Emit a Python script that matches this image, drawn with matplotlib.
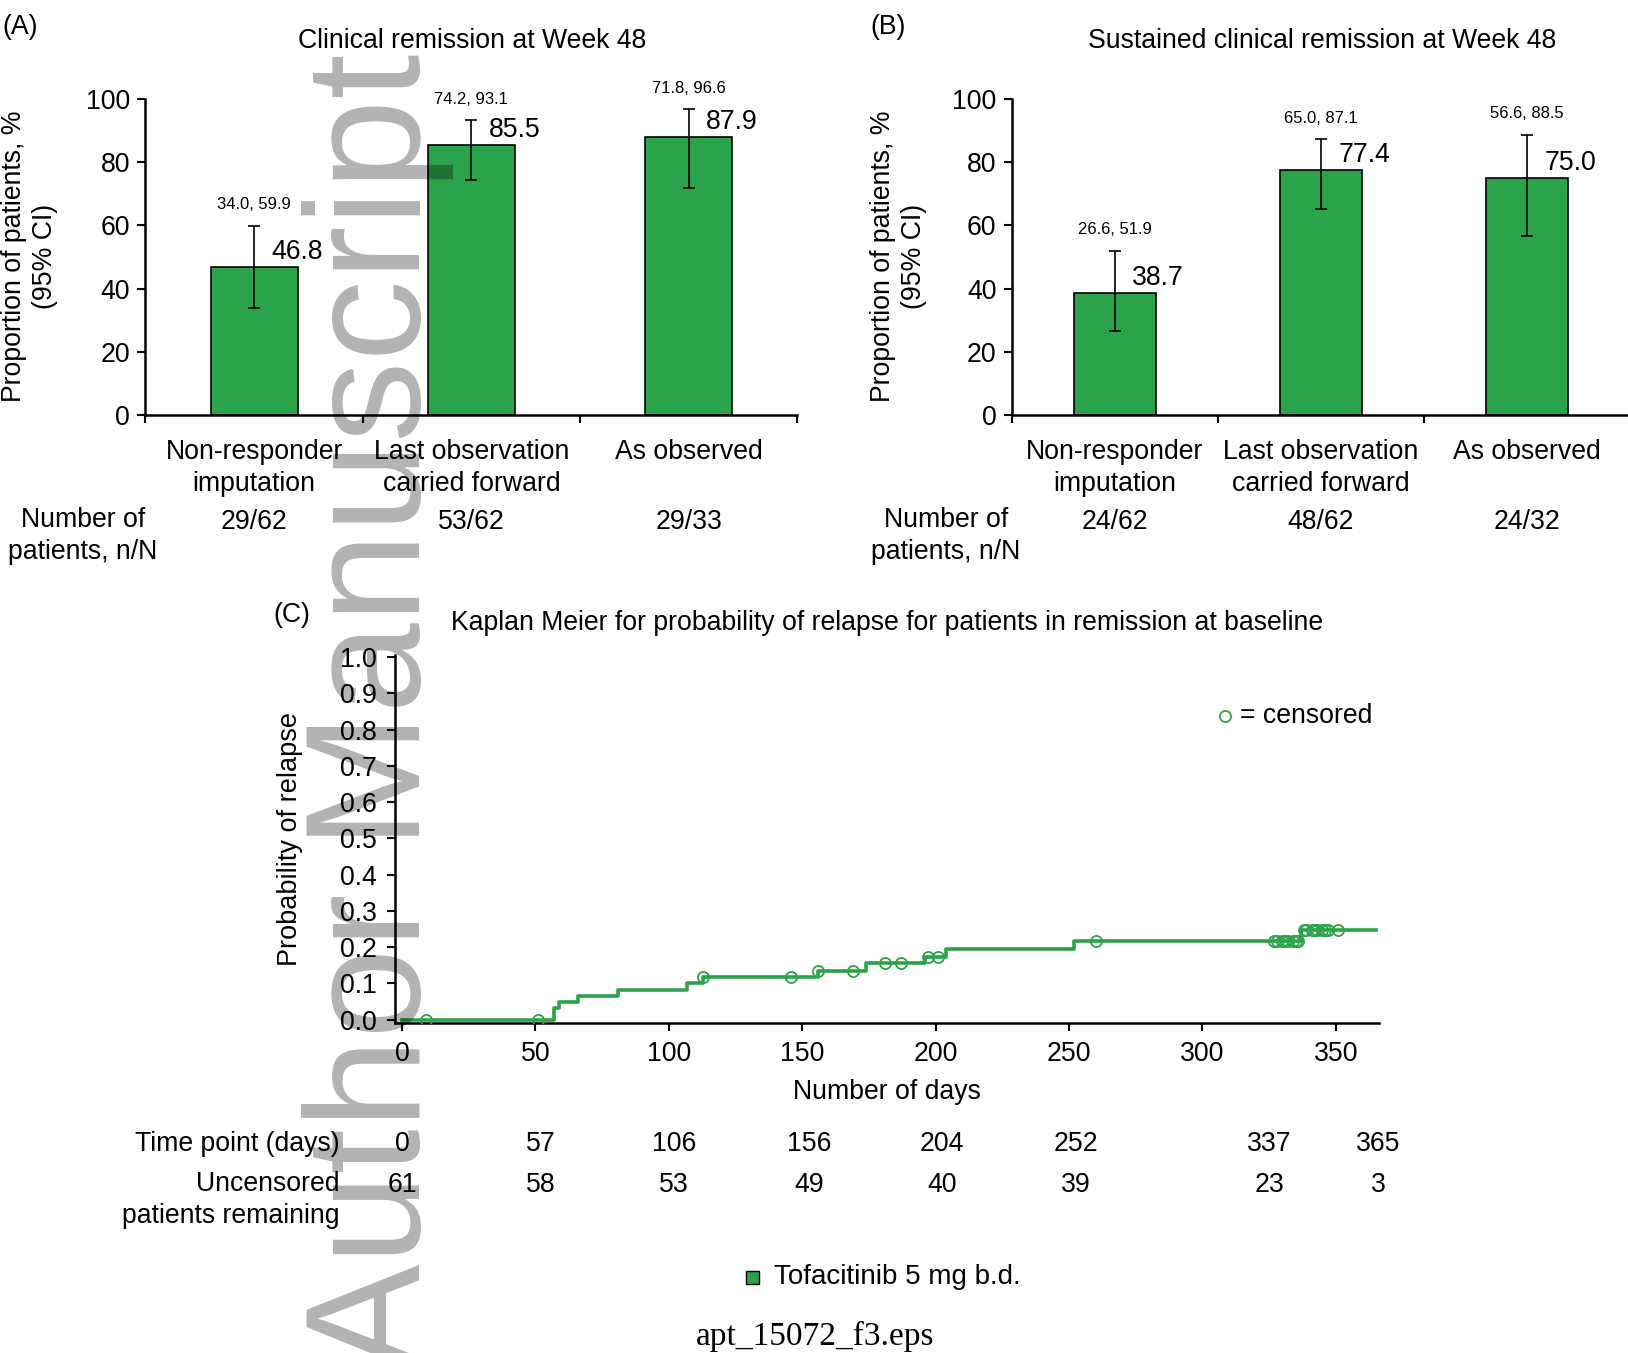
import numpy as np
import matplotlib
matplotlib.use("Agg")
from matplotlib import pyplot as plt
from matplotlib.patches import Rectangle

plt.rcParams["font.family"] = ["Liberation Sans", "DejaVu Sans"]

GREEN = "#2ba34a"
FS = 19.2

categories = ["Non-responder\nimputation", "Last observation\ncarried forward", "As observed"]

# (A) clinical remission at week 48
remission = [46.8, 85.5, 87.9]
remission_lo = [34.0, 74.2, 71.8]
remission_hi = [59.9, 93.1, 96.6]
remission_n = ["29/62", "53/62", "29/33"]

# (B) sustained clinical remission at week 48
sustained = [38.7, 77.4, 75.0]
sustained_lo = [26.6, 65.0, 56.6]
sustained_hi = [51.9, 87.1, 88.5]
sustained_n = ["24/62", "48/62", "24/32"]

# (C) Kaplan Meier
km_days = [0, 57, 59, 66, 81, 107, 113, 156, 174, 196, 204, 252, 337, 365]
km_prob = [0, 0.033, 0.049, 0.066, 0.082, 0.100, 0.118, 0.135, 0.156,
           0.174, 0.194, 0.216, 0.246, 0.246]
censor_days = [9, 51, 113, 146, 156, 169, 181, 187, 197, 201, 260,
               327, 328, 330, 331, 332, 334, 335, 336,
               338, 339, 341, 342, 343, 345, 346, 347, 351]

time_points = [0, 57, 106, 156, 204, 252, 337, 365]
uncensored = [61, 58, 53, 49, 40, 39, 23, 3]
# where the table columns sit along the day axis
table_x = [0, 52, 102, 152.5, 202.5, 252.5, 325, 366]

W, H = 1628, 1353
fig = plt.figure(figsize=(W / 100, H / 100), dpi=100)


def fx(px):
    return px / W


def fy(py):
    return 1 - py / H


def style_axes(ax, pad=5):
    for side in ["top", "right"]:
        ax.spines[side].set_visible(False)
    for side in ["left", "bottom"]:
        ax.spines[side].set_linewidth(1.8)
    ax.tick_params(direction="out", length=6, width=1.5, labelsize=FS, pad=pad)


def bar_panel(ax, values, lo, hi, counts):
    x = np.arange(len(values)) + 0.5
    ax.bar(x, values, width=0.4, color=GREEN, edgecolor="black",
           linewidth=1.2, zorder=2)
    yerr = [np.subtract(values, lo), np.subtract(hi, values)]
    ax.errorbar(x, values, yerr=yerr, fmt="none", ecolor="black",
                elinewidth=1.2, capsize=4.3, capthick=1.2, zorder=3)
    for xi, v, l, h, n, cat in zip(x, values, lo, hi, counts, categories):
        ax.annotate(f"{v:.1f}", xy=(xi, v), xytext=(12.7, 10.8),
                    textcoords="offset points", ha="left", va="center",
                    fontsize=FS)
        ax.annotate(f"{l:.1f}, {h:.1f}", xy=(xi, h), xytext=(0, 15.3),
                    textcoords="offset points", ha="center", va="center",
                    fontsize=12)
        ax.annotate(cat, xy=(xi, 0), xycoords=("data", "axes fraction"),
                    xytext=(0, -17), textcoords="offset points",
                    ha="center", va="top", fontsize=FS, linespacing=1.32)
        ax.annotate(n, xy=(xi, 0), xycoords=("data", "axes fraction"),
                    xytext=(0, -77), textcoords="offset points",
                    ha="center", va="center", fontsize=FS)
    ax.set_xlim(0, 3)
    ax.set_ylim(0, 100)
    ax.set_xticks([0, 1, 2, 3])
    ax.set_xticklabels([])
    ax.set_yticks(range(0, 101, 20))
    style_axes(ax)


ax_a = fig.add_axes([fx(145.4), fy(415.3), fx(652), 316.7 / H])
bar_panel(ax_a, remission, remission_lo, remission_hi, remission_n)
ax_b = fig.add_axes([fx(1011.7), fy(415.3), fx(618), 316.7 / H])
bar_panel(ax_b, sustained, sustained_lo, sustained_hi, sustained_n)

fig.text(fx(2), fy(27), "(A)", ha="left", va="center", fontsize=FS)
fig.text(fx(870), fy(27), "(B)", ha="left", va="center", fontsize=FS)
fig.text(fx(472), fy(40.5), "Clinical remission at Week 48",
         ha="center", va="center", fontsize=FS)
fig.text(fx(1322), fy(40.5), "Sustained clinical remission at Week 48",
         ha="center", va="center", fontsize=FS)
for xc in [29.5, 898.5]:
    fig.text(fx(xc), fy(256.5), "Proportion of patients, %\n(95% CI)",
             rotation=90, ha="center", va="center", multialignment="center",
             fontsize=FS, linespacing=1.28)
for xc in [83, 946]:
    fig.text(fx(xc), fy(536), "Number of\npatients, n/N", ha="center",
             va="center", multialignment="center", fontsize=FS,
             linespacing=1.3)

# (C) Kaplan Meier
ax_c = fig.add_axes([fx(395), fy(1022.7), fx(984), 367.3 / H])
ax_c.step(km_days, km_prob, where="post", color=GREEN, linewidth=2.6,
          zorder=2)
idx = np.searchsorted(km_days, censor_days, side="right") - 1
censor_prob = np.array(km_prob)[idx]
ax_c.plot(censor_days, censor_prob, "o", mfc="none", mec=GREEN, ms=8,
          mew=1.3, zorder=3)
ax_c.set_xlim(-2.6, 366.2)
ax_c.set_ylim(-0.0085, 1.005)
ax_c.set_xticks(range(0, 351, 50))
ax_c.set_yticks(np.arange(0, 1.01, 0.1))
ax_c.set_yticklabels([f"{v:.1f}" for v in np.arange(0, 1.01, 0.1)])
style_axes(ax_c, pad=7)

ax_c.plot([0.8435], [0.835], "o", transform=ax_c.transAxes, mfc="none",
          mec=GREEN, ms=8, mew=1.3)
ax_c.text(0.859, 0.835, "= censored", transform=ax_c.transAxes,
          ha="left", va="center", fontsize=FS)

fig.text(fx(292), fy(615), "(C)", ha="center", va="center", fontsize=FS)
fig.text(fx(887), fy(623),
         "Kaplan Meier for probability of relapse for patients in remission at baseline",
         ha="center", va="center", fontsize=FS)
fig.text(fx(290), fy(839), "Probability of relapse", rotation=90,
         ha="center", va="center", fontsize=19.5)
fig.text(fx(887), fy(1092), "Number of days", ha="center", va="center",
         fontsize=FS)

for xt, tp, n in zip(table_x, time_points, uncensored):
    ax_c.annotate(str(tp), xy=(xt, 0), xycoords=("data", "axes fraction"),
                  xytext=(0, -87.5), textcoords="offset points",
                  ha="center", va="center", fontsize=FS)
    ax_c.annotate(str(n), xy=(xt, 0), xycoords=("data", "axes fraction"),
                  xytext=(0, -117), textcoords="offset points",
                  ha="center", va="center", fontsize=FS)
fig.text(fx(339.5), fy(1144), "Time point (days)", ha="right", va="center",
         fontsize=FS)
fig.text(fx(339.5), fy(1200), "Uncensored\npatients remaining", ha="right",
         va="center", multialignment="right", fontsize=FS, linespacing=1.3)

fig.patches.append(Rectangle((fx(752 - 6.5), fy(1277 + 6.5)), 13 / W,
                             13 / H, transform=fig.transFigure,
                             facecolor=GREEN, edgecolor="black", lw=1))
fig.text(fx(773.5), fy(1277), "Tofacitinib 5 mg b.d.", ha="left",
         va="center", fontsize=20)
fig.text(fx(815), fy(1336), "apt_15072_f3.eps", ha="center", va="center",
         fontsize=24, family="Liberation Serif")

# watermark
fig.text(fx(420), fy(1372), "Author Manuscript", rotation=90,
         rotation_mode="anchor", ha="left", va="baseline", fontsize=117,
         color="black", alpha=0.3, zorder=10)

fig.savefig("out.png", dpi=100)
